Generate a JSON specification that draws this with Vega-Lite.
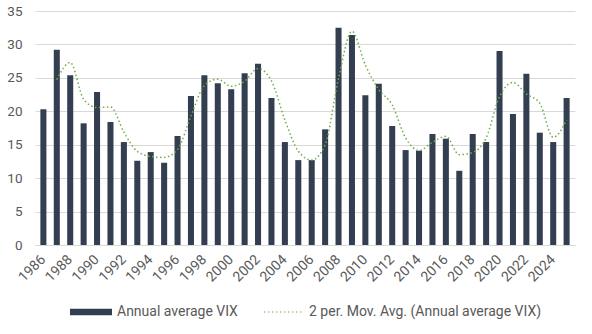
{
  "$schema": "https://vega.github.io/schema/vega-lite/v6.json",
  "autosize": "none",
  "width": 540,
  "height": 234,
  "padding": {"left": 35, "right": 17, "top": 11, "bottom": 89},
  "background": "white",
  "config": {
    "font": "Roboto, sans-serif",
    "view": {"stroke": null},
    "axis": {"labelFont": "Roboto, sans-serif", "labelFontSize": 13.5, "labelColor": "#595959"},
    "legend": {"labelFont": "Roboto, sans-serif", "labelFontSize": 14, "labelColor": "#595959", "labelLimit": 400, "padding": 0}
  },
  "data": {"values": [
    {"year": "1986", "vix": 20.3, "ma": null},
    {"year": "1987", "vix": 29.2, "ma": 24.75},
    {"year": "1988", "vix": 25.4, "ma": 27.3},
    {"year": "1989", "vix": 18.2, "ma": 21.8},
    {"year": "1990", "vix": 22.9, "ma": 20.55},
    {"year": "1991", "vix": 18.4, "ma": 20.65},
    {"year": "1992", "vix": 15.4, "ma": 16.9},
    {"year": "1993", "vix": 12.6, "ma": 14.0},
    {"year": "1994", "vix": 13.9, "ma": 13.25},
    {"year": "1995", "vix": 12.3, "ma": 13.1},
    {"year": "1996", "vix": 16.3, "ma": 14.3},
    {"year": "1997", "vix": 22.3, "ma": 19.3},
    {"year": "1998", "vix": 25.4, "ma": 23.85},
    {"year": "1999", "vix": 24.2, "ma": 24.8},
    {"year": "2000", "vix": 23.3, "ma": 23.75},
    {"year": "2001", "vix": 25.7, "ma": 24.5},
    {"year": "2002", "vix": 27.1, "ma": 26.4},
    {"year": "2003", "vix": 22.0, "ma": 24.55},
    {"year": "2004", "vix": 15.4, "ma": 18.7},
    {"year": "2005", "vix": 12.7, "ma": 14.05},
    {"year": "2006", "vix": 12.7, "ma": 12.7},
    {"year": "2007", "vix": 17.3, "ma": 15.0},
    {"year": "2008", "vix": 32.5, "ma": 24.9},
    {"year": "2009", "vix": 31.4, "ma": 31.95},
    {"year": "2010", "vix": 22.4, "ma": 26.9},
    {"year": "2011", "vix": 24.1, "ma": 23.25},
    {"year": "2012", "vix": 17.8, "ma": 20.95},
    {"year": "2013", "vix": 14.2, "ma": 16.0},
    {"year": "2014", "vix": 14.1, "ma": 14.15},
    {"year": "2015", "vix": 16.6, "ma": 15.35},
    {"year": "2016", "vix": 15.9, "ma": 16.25},
    {"year": "2017", "vix": 11.1, "ma": 13.5},
    {"year": "2018", "vix": 16.6, "ma": 13.85},
    {"year": "2019", "vix": 15.4, "ma": 16.0},
    {"year": "2020", "vix": 29.0, "ma": 22.2},
    {"year": "2021", "vix": 19.6, "ma": 24.3},
    {"year": "2022", "vix": 25.6, "ma": 22.6},
    {"year": "2023", "vix": 16.8, "ma": 21.2},
    {"year": "2024", "vix": 15.4, "ma": 16.1},
    {"year": "2025", "vix": 22.0, "ma": 18.7}
  ]},
  "encoding": {
    "x": {
      "field": "year", "type": "ordinal",
      "scale": {"paddingInner": 0.55, "paddingOuter": 0.4},
      "axis": {
        "title": null, "labelAngle": -45, "labelAlign": "right", "labelBaseline": "middle", "tickSize": 0, "labelPadding": 12, "labelFontSize": 14,
        "domainColor": "#D9D9D9",
        "values": ["1986","1988","1990","1992","1994","1996","1998","2000","2002","2004","2006","2008","2010","2012","2014","2016","2018","2020","2022","2024"]
      }
    }
  },
  "layer": [
    {
      "mark": {"type": "bar", "color": "#333F50"},
      "encoding": {
        "y": {
          "field": "vix", "type": "quantitative",
          "scale": {"domain": [0, 35], "nice": false},
          "axis": {"title": null, "values": [0,5,10,15,20,25,30,35], "labelOverlap": false, "domain": false, "ticks": false, "gridColor": "#D9D9D9", "labelPadding": 13}
        },
        "fill": {
          "datum": "Annual average VIX",
          "scale": {"range": ["#333F50"]},
          "legend": {"orient": "none", "legendX": 35, "legendY": 280, "title": null, "symbolType": "M-1,-0.15H1V0.15H-1Z", "symbolSize": 1764, "symbolStrokeWidth": 0, "symbolOpacity": 1, "labelOffset": 5}
        }
      }
    },
    {
      "mark": {"type": "line", "strokeDash": [1.5, 2.5], "strokeWidth": 1.5, "interpolate": "monotone"},
      "encoding": {
        "y": {
          "field": "ma", "type": "quantitative",
          "scale": {"domain": [0, 35], "nice": false},
          "axis": {"title": null, "values": [0,5,10,15,20,25,30,35], "labelOverlap": false, "domain": false, "ticks": false, "gridColor": "#D9D9D9", "labelPadding": 13}
        },
        "stroke": {
          "datum": "2 per. Mov. Avg. (Annual average VIX)",
          "scale": {"range": ["#70AD47"]},
          "legend": {"orient": "none", "legendX": 228, "legendY": 280, "title": null, "symbolType": "stroke", "symbolSize": 1600, "symbolDash": [1.5, 2.5], "symbolStrokeWidth": 1.2, "labelOffset": 4}
        }
      }
    }
  ]
}
